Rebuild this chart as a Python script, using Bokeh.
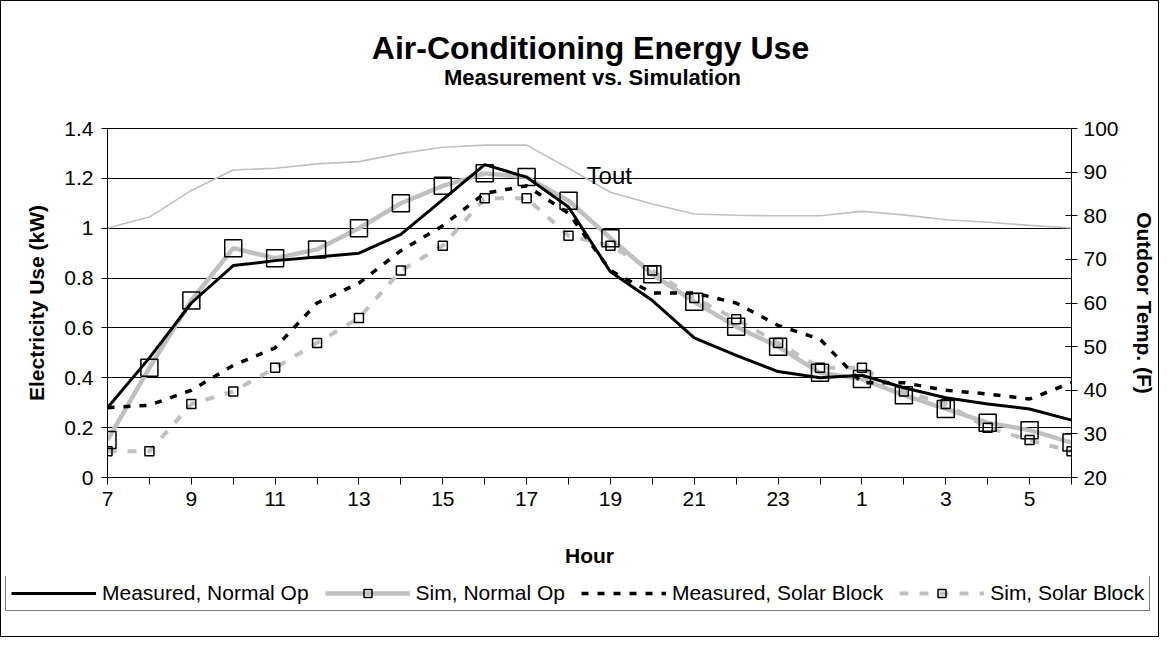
from bokeh.plotting import figure
from bokeh.layouts import column
from bokeh.models import (Range1d, LinearAxis, FixedTicker, CustomJSTickFormatter,
                          Legend, LegendItem, Label)
from bokeh.embed import file_html
from bokeh.resources import INLINE

# ---------------- data ----------------
hour_labels = ["7", "8", "9", "10", "11", "12", "13", "14", "15", "16", "17", "18",
               "19", "20", "21", "22", "23", "24", "1", "2", "3", "4", "5", "6"]

measured_normal = [0.28, 0.48, 0.70, 0.85, 0.87, 0.885, 0.90, 0.975, 1.115, 1.255, 1.205, 1.085,
                   0.825, 0.71, 0.56, 0.49, 0.425, 0.40, 0.41, 0.36, 0.32, 0.295, 0.275, 0.23]
sim_normal = [0.15, 0.44, 0.71, 0.92, 0.88, 0.915, 1.0, 1.10, 1.17, 1.22, 1.205, 1.11,
              0.96, 0.815, 0.705, 0.605, 0.525, 0.42, 0.395, 0.33, 0.275, 0.22, 0.19, 0.14]
measured_solar = [0.28, 0.29, 0.35, 0.45, 0.52, 0.70, 0.78, 0.91, 1.01, 1.14, 1.17, 1.06,
                  0.83, 0.74, 0.74, 0.70, 0.61, 0.555, 0.38, 0.38, 0.35, 0.335, 0.315, 0.38]
sim_solar = [0.105, 0.105, 0.295, 0.345, 0.44, 0.54, 0.64, 0.83, 0.93, 1.12, 1.12, 0.97,
             0.93, 0.83, 0.72, 0.635, 0.54, 0.44, 0.44, 0.345, 0.295, 0.20, 0.15, 0.105]
tout = [77.2, 79.7, 85.8, 90.5, 90.9, 91.9, 92.4, 94.3, 95.7, 96.2, 96.2, 90.9,
        85.4, 82.7, 80.4, 80.1, 80.0, 80.0, 81.0, 80.2, 79.1, 78.5, 77.8, 77.2]

elec_ticks = [0, 0.2, 0.4, 0.6, 0.8, 1.0, 1.2, 1.4]
temp_ticks = [20, 30, 40, 50, 60, 70, 80, 90, 100]

title_text = "Air-Conditioning Energy Use"
subtitle_text = "Measurement vs. Simulation"
series_names = ["Measured, Normal Op", "Sim, Normal Op", "Measured, Solar Block", "Sim, Solar Block"]

x = list(range(len(hour_labels)))
FONT = "Liberation Sans"
GRAY = "#C0C0C0"
W = 1157
T_H, P_H, L_H = 95, 480, 60


def bare_figure(h, x0=0, y0=0):
    f = figure(width=W, height=h, output_backend="svg", toolbar_location=None,
               x_range=Range1d(x0, x0 + W), y_range=Range1d(y0, y0 + h),
               x_axis_type=None, y_axis_type=None,
               min_border_left=0, min_border_right=0, min_border_top=0, min_border_bottom=0)
    f.frame_align = False
    f.outline_line_color = None
    f.grid.grid_line_color = None
    f.background_fill_color = "white"
    f.border_fill_color = "white"
    return f


# ---------------- titles ----------------
tf = bare_figure(T_H)
tf.add_layout(Label(x=589, y=T_H - 46, text=title_text, text_font=FONT, text_font_size="32px",
                    text_font_style="bold", text_color="black", text_align="center",
                    text_baseline="middle"))
tf.add_layout(Label(x=591, y=T_H - 76, text=subtitle_text, text_font=FONT, text_font_size="22px",
                    text_font_style="bold", text_color="black", text_align="center",
                    text_baseline="middle"))

# ---------------- main chart ----------------
p = figure(width=W, height=P_H, output_backend="svg", toolbar_location=None,
           x_range=Range1d(0, len(hour_labels) - 1), y_range=Range1d(elec_ticks[0], elec_ticks[-1]),
           min_border_left=106, min_border_right=85, min_border_top=32, min_border_bottom=99)
p.frame_align = False
p.extra_y_ranges = {"temp": Range1d(temp_ticks[0], temp_ticks[-1])}
p.background_fill_color = "white"
p.border_fill_color = "white"
p.outline_line_color = "black"
p.outline_line_width = 1

p.xgrid.grid_line_color = None
p.ygrid.ticker = FixedTicker(ticks=elec_ticks)
p.ygrid.grid_line_color = "black"
p.ygrid.grid_line_width = 1

ya = p.yaxis[0]
ya.ticker = FixedTicker(ticks=elec_ticks)
ya.formatter = CustomJSTickFormatter(code="return (Math.round(tick*10)/10).toString();")
ya.axis_label = "Electricity Use (kW)"

xa = p.xaxis[0]
xa.ticker = FixedTicker(ticks=x)
xa.formatter = CustomJSTickFormatter(args=dict(labels=hour_labels),
                                     code="const i = Math.round(tick); return (i % 2 === 0) ? labels[i] : '';")
xa.axis_label = "Hour"

ra = LinearAxis(y_range_name="temp", ticker=FixedTicker(ticks=temp_ticks),
                axis_label="Outdoor Temp. (F)")
p.add_layout(ra, "right")

for ax in (xa, ya, ra):
    ax.axis_line_color = "black"
    ax.axis_line_width = 1
    ax.major_tick_line_color = "black"
    ax.minor_tick_line_color = None
    ax.major_tick_in = 0
    ax.major_tick_out = 6
    ax.major_label_text_font = FONT
    ax.major_label_text_font_size = "21px"
    ax.major_label_text_color = "black"
    ax.axis_label_text_font = FONT
    ax.axis_label_text_font_size = "21px"
    ax.axis_label_text_font_style = "bold"
    ax.axis_label_text_color = "black"

ra.major_tick_in = 6
xa.major_tick_out = 7
xa.major_label_standoff = 7
xa.axis_label_standoff = 35
ya.major_label_standoff = 8
ya.axis_label_standoff = 13
ra.major_label_standoff = 6
ra.axis_label_standoff = 11

p.line(x, tout, y_range_name="temp", line_color=GRAY, line_width=1.6)
p.line(x, sim_solar, line_color=GRAY, line_width=4, line_dash="9 11")
p.line(x, sim_normal, line_color=GRAY, line_width=4.5)
p.line(x, measured_solar, line_color="black", line_width=3.5, line_dash="7 9")
p.line(x, measured_normal, line_color="black", line_width=3)
p.scatter(x, sim_normal, marker="square", size=17, fill_color=None, line_color="black", line_width=1.5)
p.scatter(x, sim_solar, marker="square", size=9, fill_color=None, line_color="black", line_width=1.5)

p.add_layout(Label(x=11.43, y=89.3, y_range_name="temp", text="Tout",
                   text_font=FONT, text_font_size="24px", text_color="black",
                   text_baseline="middle", text_align="left"))

# ---------------- legend ----------------
# the legend strip reuses the series (drawn outside its visible range) so that
# the legend glyphs carry the same styles as the chart lines
lf = bare_figure(L_H, x0=1000, y0=1000)
g_mn = lf.line(x, measured_normal, line_color="black", line_width=3)
g_sn = lf.line(x, sim_normal, line_color=GRAY, line_width=4.5)
g_snp = lf.scatter(x, sim_normal, marker="square", size=9, fill_color=None, line_color="black", line_width=1.5)
g_ms = lf.line(x, measured_solar, line_color="black", line_width=3.5, line_dash="7 9")
g_ss = lf.line(x, sim_solar, line_color=GRAY, line_width=4, line_dash="9 11")
g_ssp = lf.scatter(x, sim_solar, marker="square", size=9, fill_color=None, line_color="black", line_width=1.5)

legend = Legend(items=[
    LegendItem(label=series_names[0], renderers=[g_mn]),
    LegendItem(label=series_names[1], renderers=[g_sn, g_snp]),
    LegendItem(label=series_names[2], renderers=[g_ms]),
    LegendItem(label=series_names[3], renderers=[g_ss, g_ssp]),
], orientation="horizontal", location=(4, 25))
legend.label_text_font = FONT
legend.label_text_font_size = "21px"
legend.label_text_color = "black"
legend.glyph_width = 85
legend.glyph_height = 20
legend.label_standoff = 6
legend.spacing = 16
legend.padding = 5
legend.margin = 0
legend.border_line_color = "black"
legend.border_line_width = 1
legend.background_fill_color = "white"
legend.background_fill_alpha = 1
lf.add_layout(legend, "center")

layout = column(tf, p, lf, spacing=0, styles={"border": "1px solid black"})

open("out.html", "w").write(file_html(layout, INLINE))
